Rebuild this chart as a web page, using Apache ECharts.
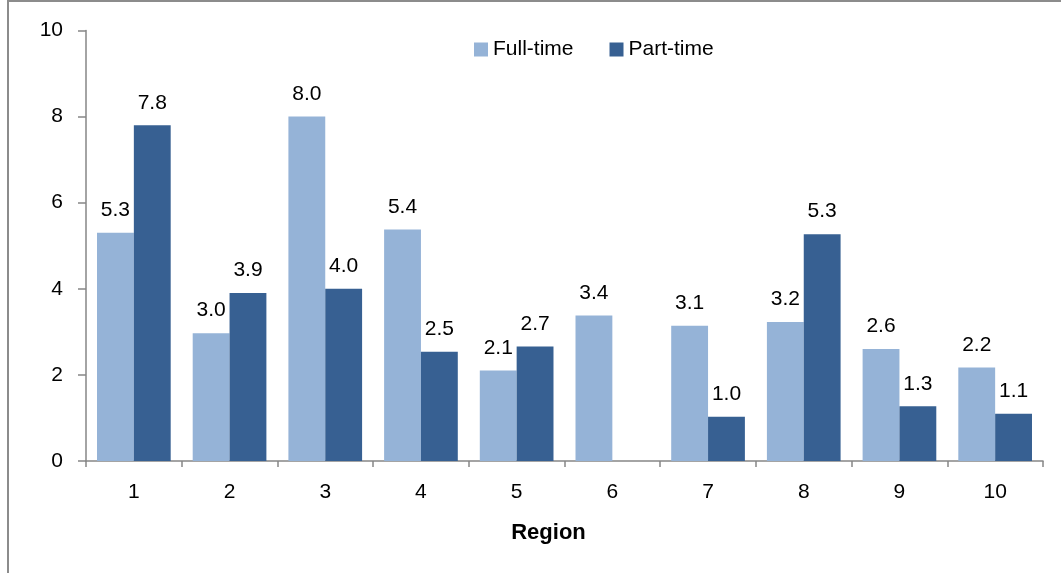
<!DOCTYPE html>
<html><head><meta charset="utf-8">
<script src="https://cdn.jsdelivr.net/npm/echarts@6/dist/echarts.min.js"></script>
<style>
html,body{margin:0;padding:0;background:#fff;}
#frame{position:absolute;left:7px;top:0;width:1100px;height:600px;border-left:2px solid #8c8c8c;border-top:2px solid #8c8c8c;}
#c{position:absolute;left:0;top:0;width:1061px;height:573px;}
</style></head>
<body>
<div id="frame"></div>
<div id="c"></div>
<script>
const categories = ['1','2','3','4','5','6','7','8','9','10'];
const fullTime = [5.3, 2.97, 8.0, 5.38, 2.1, 3.38, 3.14, 3.23, 2.6, 2.17];
const partTime = [7.8, 3.9, 4.0, 2.54, 2.66, null, 1.03, 5.27, 1.27, 1.1];
const seriesNames = ['Full-time', 'Part-time'];
const yTicks = [0, 2, 4, 6, 8, 10];

const font = 'Liberation Sans';
const fs = 21;
const chart = echarts.init(document.getElementById('c'));
const lbl = {
  show: true, position: 'top', distance: 12, color: '#000', fontSize: fs, fontFamily: font,
  formatter: p => p.value == null ? '' : Number(p.value).toFixed(1)
};
chart.setOption({
  animation: false,
  textStyle: {fontFamily: font},
  legend: {
    data: seriesNames, top: 34, left: 469, itemWidth: 14, itemHeight: 14, itemGap: 36,
    textStyle: {fontSize: fs, color: '#000', fontFamily: font}, icon: 'rect'
  },
  grid: {left: 86, right: 18, top: 30.5, bottom: 112},
  xAxis: {
    type: 'category', data: categories, name: 'Region', nameLocation: 'middle', nameGap: 61,
    nameTextStyle: {fontSize: 22, fontWeight: 'bold', color: '#000', fontFamily: font, padding: [0, 32, 0, 0]},
    axisLine: {lineStyle: {color: '#868686', width: 1.5}},
    axisTick: {show: true, length: 6, lineStyle: {color: '#868686', width: 1.5}},
    axisLabel: {fontSize: fs, color: '#000', margin: 21, fontFamily: font}
  },
  yAxis: {
    type: 'value', min: yTicks[0], max: yTicks[yTicks.length-1], interval: 2,
    axisLine: {show: true, lineStyle: {color: '#868686', width: 1.5}},
    axisTick: {show: true, length: 8, lineStyle: {color: '#868686', width: 1.5}},
    splitLine: {show: false},
    axisLabel: {fontSize: fs, color: '#000', margin: 23, fontFamily: font}
  },
  series: [
    {name: seriesNames[0], type: 'bar', data: fullTime, barGap: '0%', barCategoryGap: '23%',
     itemStyle: {color: '#95B3D7'}, label: lbl},
    {name: seriesNames[1], type: 'bar', data: partTime, barGap: '0%', barCategoryGap: '23%',
     itemStyle: {color: '#376092'}, label: lbl}
  ]
});
</script>
</body></html>
